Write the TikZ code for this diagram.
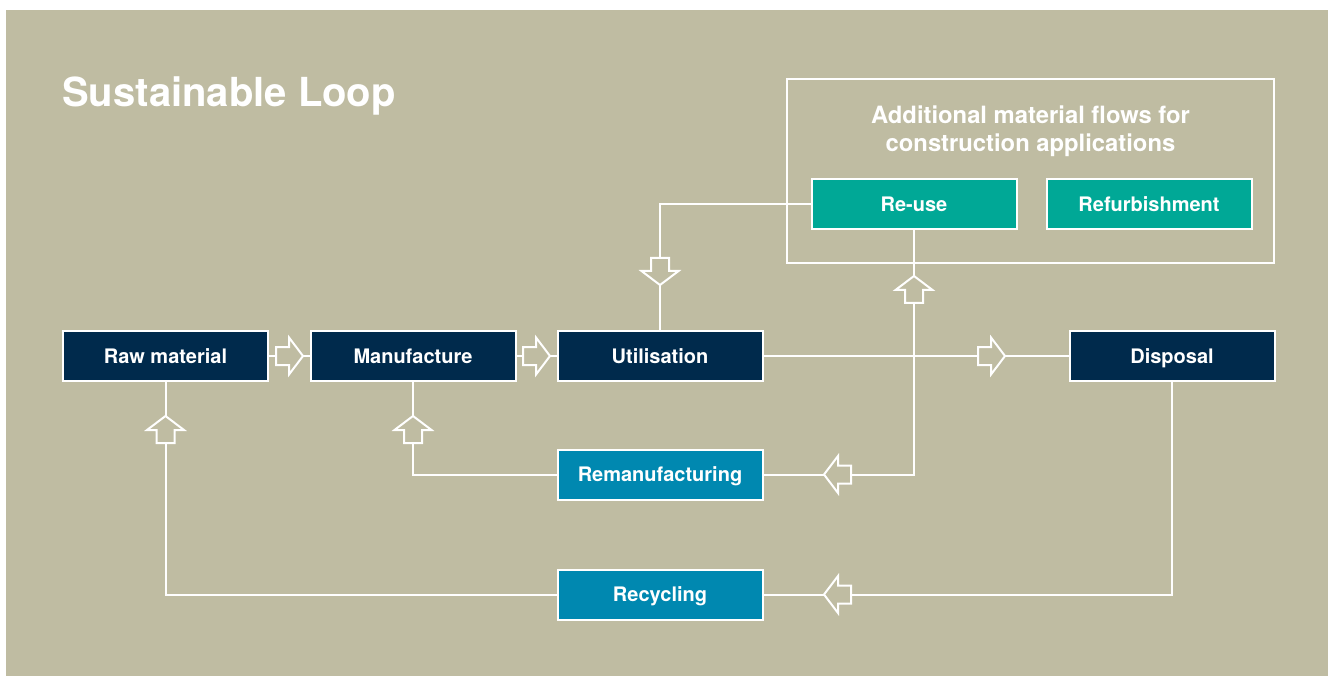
\documentclass[tikz,border=0pt]{standalone}
\usepackage{fontspec}
\setmainfont{TeX Gyre Heros}
\definecolor{sand}{HTML}{BFBCA2}
\definecolor{navy}{HTML}{002A4C}
\definecolor{teal}{HTML}{00A896}
\definecolor{ocean}{HTML}{0088B0}
\tikzset{
  box/.style={draw=white, line width=2pt, minimum width=205pt, minimum height=50pt,
    inner sep=0pt, text height=14.5pt, text depth=0pt, text=white,
    font=\fontsize{20}{24}\selectfont\bfseries},
  mainbox/.style={box, fill=navy},
  loopbox/.style={box, fill=ocean},
  extrabox/.style={box, fill=teal},
  flow/.style={draw=white, line width=2pt},
  pics/barrow/.style={code={
    \draw[white, fill=sand, line width=2pt, line join=miter]
      (0,-9) -- (13,-9) -- (13,-18.5) -- (27,0) -- (13,18.5) -- (13,9) -- (0,9) -- cycle;
  }}
}
\begin{document}
\begin{tikzpicture}[x=1pt, y=-1pt]
  \useasboundingbox (0,0) rectangle (1328,676);
  \fill[white] (0,0) rectangle (1328,676);
  \fill[sand] (6,10) rectangle (1328,676);

  % heading
  \node[anchor=base west, inner sep=0pt, text=white,
        font=\fontsize{40}{44}\selectfont\bfseries] (title) at (62,107) {Sustainable Loop};

  % group of additional flows
  \draw[flow] (787,79) rectangle (1274,263);
  \node[align=center, text=white, inner sep=0pt,
        font=\fontsize{23.8}{28}\selectfont\bfseries] (grouptitle) at (1030.5,131)
        {Additional material flows for\\construction applications};

  % main chain
  \node[mainbox] (raw) at (165.5,356) {Raw material};
  \node[mainbox] (man) at (413,356) {Manufacture};
  \node[mainbox] (uti) at (660,356) {Utilisation};
  \node[mainbox] (dis) at (1172,356) {Disposal};

  % return loops
  \node[loopbox] (reman) at (660,474.5) {Remanufacturing};
  \node[loopbox] (recy) at (660,594.5) {Recycling};

  % construction flows
  \node[extrabox] (reuse) at (914,204) {Re-use};
  \node[extrabox] (refurb) at (1149,204) {Refurbishment};

  % connectors
  \draw[flow] (raw.east) -- (man.west);
  \draw[flow] (man.east) -- (uti.west);
  \draw[flow] (uti.east) -- (dis.west);
  \draw[flow] (reuse.west) -| (uti.north);
  \draw[flow] (reman.east) -| (reuse.south);
  \draw[flow] (reman.west) -| (man.south);
  \draw[flow] (dis.south) |- (recy.east);
  \draw[flow] (recy.west) -| (raw.south);

  % hollow arrow heads on the connectors
  \pic at (276,356) {barrow};
  \pic at (523,356) {barrow};
  \pic at (978,356) {barrow};
  \pic[rotate=-90] at (660,258) {barrow};
  \pic[rotate=90] at (914,303) {barrow};
  \pic[rotate=180] at (851,474.5) {barrow};
  \pic[rotate=180] at (851,594.5) {barrow};
  \pic[rotate=90] at (413,443) {barrow};
  \pic[rotate=90] at (165.5,443) {barrow};
\end{tikzpicture}
\end{document}
